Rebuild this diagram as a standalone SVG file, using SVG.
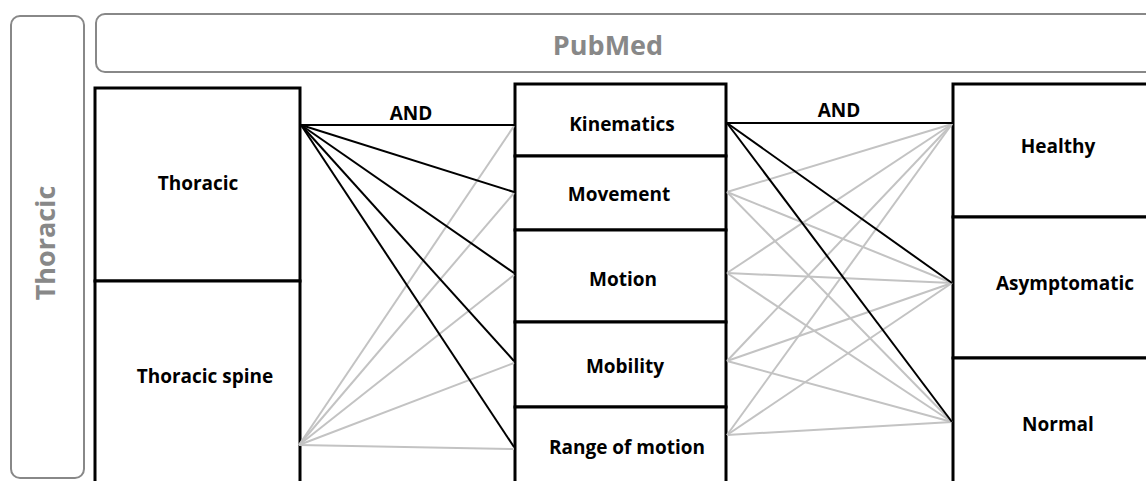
<svg xmlns="http://www.w3.org/2000/svg" width="1146" height="481" viewBox="0 0 1146 481">
  <style>
    .frame { fill: #ffffff; stroke: #888888; stroke-width: 2; }
    .frametxt { font-family: "Open Sans", "Liberation Sans", sans-serif; font-weight: bold; fill: #888888; text-anchor: middle; }
    .box { fill: #ffffff; stroke: #000000; stroke-width: 3; }
    .lbl { font-family: "Open Sans", "Liberation Sans", sans-serif; font-weight: bold; font-size: 19px; fill: #000000; text-anchor: middle; }
    .blk { stroke: #000000; stroke-width: 2; fill: none; }
    .gry { stroke: #c3c3c3; stroke-width: 2; fill: none; }
  </style>
  <rect width="1146" height="481" fill="#ffffff"/>

  <g id="frame-thoracic">
    <rect class="frame" x="11" y="16" width="73" height="462" rx="9"/>
    <text class="frametxt" font-size="27" transform="translate(55,243) rotate(-90)">Thoracic</text>
  </g>
  <g id="frame-pubmed">
    <rect class="frame" x="96" y="14" width="1080" height="58" rx="9"/>
    <text class="frametxt" font-size="27" x="608" y="55">PubMed</text>
  </g>

  <g id="node-thoracic">
    <rect class="box" x="95" y="88" width="205" height="193"/>
    <text class="lbl" x="198" y="190">Thoracic</text>
  </g>
  <g id="node-thoracic-spine">
    <rect class="box" x="95" y="281" width="205" height="215"/>
    <text class="lbl" x="205" y="383">Thoracic spine</text>
  </g>

  <g id="node-kinematics">
    <rect class="box" x="515" y="84" width="211" height="72"/>
    <text class="lbl" x="622" y="131">Kinematics</text>
  </g>
  <g id="node-movement">
    <rect class="box" x="515" y="156" width="211" height="74"/>
    <text class="lbl" x="619" y="201">Movement</text>
  </g>
  <g id="node-motion">
    <rect class="box" x="515" y="230" width="211" height="92"/>
    <text class="lbl" x="623" y="286">Motion</text>
  </g>
  <g id="node-mobility">
    <rect class="box" x="515" y="322" width="211" height="85"/>
    <text class="lbl" x="625" y="373">Mobility</text>
  </g>
  <g id="node-range-of-motion">
    <rect class="box" x="515" y="407" width="211" height="90"/>
    <text class="lbl" x="627" y="454">Range of motion</text>
  </g>

  <g id="node-healthy">
    <rect class="box" x="953" y="84" width="210" height="133"/>
    <text class="lbl" x="1058" y="153">Healthy</text>
  </g>
  <g id="node-asymptomatic">
    <rect class="box" x="953" y="217" width="210" height="141"/>
    <text class="lbl" x="1065" y="290">Asymptomatic</text>
  </g>
  <g id="node-normal">
    <rect class="box" x="953" y="358" width="210" height="140"/>
    <text class="lbl" x="1058" y="431">Normal</text>
  </g>

  <g id="connectors">
    <!-- left: Thoracic spine (gray) -->
    <line class="gry" x1="299" y1="445" x2="514" y2="126"/>
    <line class="gry" x1="299" y1="445" x2="514" y2="193"/>
    <line class="gry" x1="299" y1="445" x2="514" y2="275"/>
    <line class="gry" x1="299" y1="445" x2="514" y2="363"/>
    <line class="gry" x1="299" y1="445" x2="514" y2="449"/>
    <!-- left: Thoracic (black) -->
    <line class="blk" x1="301" y1="125" x2="514" y2="125"/>
    <line class="blk" x1="301" y1="125" x2="514" y2="192"/>
    <line class="blk" x1="301" y1="125" x2="514" y2="273"/>
    <line class="blk" x1="301" y1="125" x2="514" y2="361"/>
    <line class="blk" x1="301" y1="125" x2="514" y2="447"/>

    <!-- right: gray -->
    <line class="gry" x1="727" y1="192" x2="952" y2="124"/>
    <line class="gry" x1="727" y1="192" x2="952" y2="283"/>
    <line class="gry" x1="727" y1="192" x2="952" y2="422"/>
    <line class="gry" x1="727" y1="273" x2="952" y2="124"/>
    <line class="gry" x1="727" y1="273" x2="952" y2="283"/>
    <line class="gry" x1="727" y1="273" x2="952" y2="422"/>
    <line class="gry" x1="727" y1="361" x2="952" y2="124"/>
    <line class="gry" x1="727" y1="361" x2="952" y2="283"/>
    <line class="gry" x1="727" y1="361" x2="952" y2="422"/>
    <line class="gry" x1="727" y1="435" x2="952" y2="124"/>
    <line class="gry" x1="727" y1="435" x2="952" y2="283"/>
    <line class="gry" x1="727" y1="435" x2="952" y2="422"/>
    <!-- right: Kinematics (black) -->
    <line class="blk" x1="727" y1="123" x2="952" y2="123"/>
    <line class="blk" x1="727" y1="123" x2="952" y2="283"/>
    <line class="blk" x1="727" y1="123" x2="952" y2="422"/>

    <text class="lbl" x="411" y="120">AND</text>
    <text class="lbl" x="839" y="117">AND</text>
  </g>
</svg>
